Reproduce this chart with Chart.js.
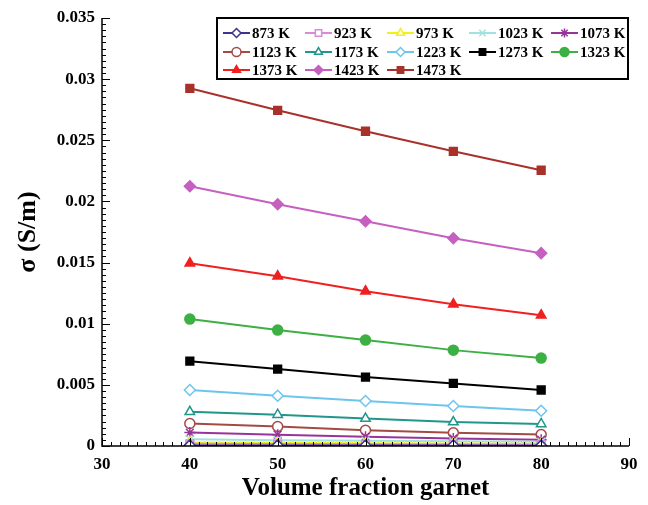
<!DOCTYPE html>
<html>
<head>
<meta charset="utf-8">
<script src="https://cdn.jsdelivr.net/npm/chart.js@4.4.1/dist/chart.umd.min.js"></script>
<style>
  html, body { margin: 0; padding: 0; background: #fff; }
  #wrap { width: 648px; height: 505px; position: relative; }
</style>
</head>
<body>
<div id="wrap"><canvas id="c" width="648" height="505"></canvas></div>
<script>
// Volume fraction of garnet (%)
const fractions = [40, 50, 60, 70, 80];

// Temperature labels
const temps = ['873 K', '923 K', '973 K', '1023 K', '1073 K', '1123 K', '1173 K',
               '1223 K', '1273 K', '1323 K', '1373 K', '1423 K', '1473 K'];

// Electrical conductivity sigma (S/m) per temperature
const sigma873  = [0.00005, 0.00005, 0.00004, 0.00004, 0.00003];
const sigma923  = [0.00018, 0.00016, 0.00014, 0.00012, 0.00011];
const sigma973  = [0.00029, 0.00026, 0.00023, 0.00020, 0.00018];
const sigma1023 = [0.00056, 0.00048, 0.00043, 0.00038, 0.00034];
const sigma1073 = [0.00110, 0.00093, 0.00076, 0.00062, 0.00052];
const sigma1123 = [0.00184, 0.00159, 0.00129, 0.00108, 0.00094];
const sigma1173 = [0.00280, 0.00256, 0.00224, 0.00196, 0.00180];
const sigma1223 = [0.00458, 0.00411, 0.00368, 0.00327, 0.00288];
const sigma1273 = [0.00694, 0.00629, 0.00564, 0.00512, 0.00458];
const sigma1323 = [0.01038, 0.00948, 0.00866, 0.00784, 0.00719];
const sigma1373 = [0.01495, 0.01389, 0.01266, 0.01160, 0.01070];
const sigma1423 = [0.02124, 0.01977, 0.01838, 0.01699, 0.01577];
const sigma1473 = [0.02925, 0.02745, 0.02574, 0.02410, 0.02255];

const seriesValues = [sigma873, sigma923, sigma973, sigma1023, sigma1073, sigma1123, sigma1173,
                      sigma1223, sigma1273, sigma1323, sigma1373, sigma1423, sigma1473];

// Axis tick labels
const xTicks = [30, 40, 50, 60, 70, 80, 90];
const yTicks = ['0', '0.005', '0.01', '0.015', '0.02', '0.025', '0.03', '0.035'];

// Marker styling per series: colour, point style, filled or open
const colors = ['#3b3490', '#d98ad6', '#f2f01a', '#9fe3e0', '#99339c', '#a34a45', '#22968a',
                '#6cc6ec', '#000000', '#3cb043', '#f02020', '#c660c0', '#a8322a'];
const shapes = ['rectRot', 'rect', 'triangle', 'crossRot', 'star', 'circle', 'triangle',
                'rectRot', 'rect', 'circle', 'triangle', 'rectRot', 'rect'];
const filled = [false, false, false, false, false, false, false,
                false, true, true, true, true, true];

const SERIF = '"Liberation Serif", "Times New Roman", serif';

const datasets = temps.map((t, i) => ({
  label: t,
  data: fractions.map((f, j) => ({ x: f, y: seriesValues[i][j] })),
  borderColor: colors[i],
  backgroundColor: filled[i] ? colors[i] : '#ffffff',
  pointBorderColor: colors[i],
  pointBackgroundColor: filled[i] ? colors[i] : '#ffffff',
  pointStyle: shapes[i],
  pointRadius: shapes[i] === 'circle' ? 5 : 5.5,
  pointBorderWidth: 1.5,
  borderWidth: 2,
  showLine: true,
  fill: false,
  tension: 0
}));

// Inward major and minor ticks on both axes
const inwardTicks = {
  id: 'inwardTicks',
  afterDatasetsDraw(chart) {
    const { ctx, chartArea: a, scales: { x, y } } = chart;
    ctx.save();
    ctx.strokeStyle = '#000';
    ctx.lineWidth = 1.5;
    ctx.beginPath();
    ctx.moveTo(a.left, a.top);
    ctx.lineTo(a.left, a.bottom);
    ctx.lineTo(a.right, a.bottom);
    ctx.stroke();
    ctx.lineWidth = 1;
    ctx.beginPath();
    for (let v = 30; v <= 90.001; v += 1) {
      const px = Math.round(x.getPixelForValue(v)) + 0.5;
      const len = (Math.round(v) % 10 === 0) ? 8 : 4;
      ctx.moveTo(px, a.bottom);
      ctx.lineTo(px, a.bottom - len);
    }
    for (let k = 0; k <= 70; k++) {
      const v = k * 0.0005;
      const py = Math.round(y.getPixelForValue(v)) + 0.5;
      const len = (k % 10 === 0) ? 8 : 4;
      ctx.moveTo(a.left, py);
      ctx.lineTo(a.left + len, py);
    }
    ctx.stroke();
    ctx.restore();
  }
};

// Boxed legend in the upper right of the plot, five columns
const boxLegend = {
  id: 'boxLegend',
  afterDraw(chart) {
    const ctx = chart.ctx;
    const left = 217, top = 18, right = 628, bottom = 79;
    ctx.save();
    ctx.fillStyle = '#fff';
    ctx.fillRect(left, top, right - left, bottom - top);
    ctx.strokeStyle = '#000';
    ctx.lineWidth = 2;
    ctx.strokeRect(left, top, right - left, bottom - top);
    const colX = [223, 305, 387, 469, 551];
    const rowY = [33, 52, 70];
    ctx.font = 'bold 15px ' + SERIF;
    ctx.textBaseline = 'middle';
    ctx.textAlign = 'left';
    temps.forEach((t, i) => {
      const cx = colX[i % 5], cy = rowY[Math.floor(i / 5)];
      ctx.strokeStyle = colors[i];
      ctx.lineWidth = 2;
      ctx.beginPath();
      ctx.moveTo(cx, cy);
      ctx.lineTo(cx + 27, cy);
      ctx.stroke();
      ctx.fillStyle = filled[i] ? colors[i] : '#fff';
      ctx.lineWidth = 1.5;
      Chart.helpers.drawPoint(ctx, { pointStyle: shapes[i], radius: 4.5, borderWidth: 1.5, rotation: 0 }, cx + 13.5, cy);
      ctx.fillStyle = '#000';
      ctx.fillText(t, cx + 29, cy + 1);
    });
    ctx.restore();
  }
};

new Chart(document.getElementById('c'), {
  type: 'scatter',
  data: { datasets },
  options: {
    responsive: false,
    animation: false,
    devicePixelRatio: 1,
    layout: { padding: { top: 18, right: 19, left: 0, bottom: 0 } },
    plugins: {
      legend: { display: false },
      tooltip: { enabled: false }
    },
    scales: {
      x: {
        type: 'linear',
        min: 30, max: 90,
        afterFit(s) { s.height = 59; },
        afterBuildTicks(s) { s.ticks = xTicks.map(v => ({ value: v })); },
        grid: { display: false, drawTicks: false },
        border: { display: false },
        ticks: {
          color: '#000',
          padding: 8,
          maxRotation: 0,
          font: { family: SERIF, size: 17, weight: 'bold' }
        },
        title: {
          display: true,
          text: 'Volume fraction garnet',
          color: '#000',
          padding: { top: 0, bottom: 1 },
          font: { family: SERIF, size: 25, weight: 'bold' }
        }
      },
      y: {
        type: 'linear',
        min: 0, max: 0.035,
        afterFit(s) { s.width = 102; },
        afterBuildTicks(s) { s.ticks = yTicks.map(v => ({ value: parseFloat(v) })); },
        grid: { display: false, drawTicks: false },
        border: { display: false },
        ticks: {
          color: '#000',
          padding: 7,
          font: { family: SERIF, size: 17, weight: 'bold' },
          callback: (v, i) => yTicks[i]
        },
        title: {
          display: true,
          text: 'σ (S/m)',
          color: '#000',
          padding: { top: 13, bottom: 0 },
          font: { family: SERIF, size: 26, weight: 'bold' }
        }
      }
    }
  },
  plugins: [inwardTicks, boxLegend]
});
</script>
</body>
</html>
